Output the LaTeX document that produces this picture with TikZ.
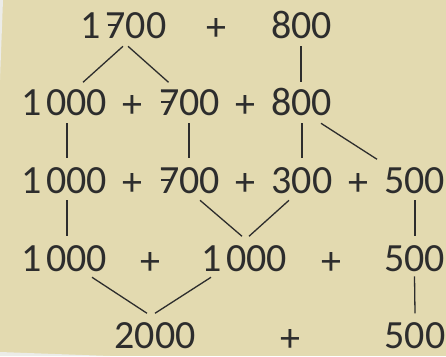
\documentclass[tikz,border=0pt]{standalone}
\usepackage{fontspec}
\usepackage{pdfrender}
\setmainfont{Carlito}[Numbers={Lining,Monospaced}]
\definecolor{bgbeige}{RGB}{227,218,176}
\definecolor{inkgray}{RGB}{45,45,45}
\definecolor{edgegray}{RGB}{236,236,232}
\newcommand\sv{\makebox[0pt][l]{\hspace{0.05em}\raisebox{0.31em}{\rule{0.26em}{0.045em}}}7}
\newcommand\one{1\kern0.12em}
\newcommand\thinink{\pdfrender{TextRenderingMode=2,LineWidth=0.9pt,StrokeColor=bgbeige}}
\begin{document}
\begin{tikzpicture}[x=1pt,y=-1pt,
  num/.style={inner sep=0pt,outer sep=0pt,anchor=base,text=inkgray,font=\fontsize{40}{44}\selectfont\thinink},
  plus/.style={inner sep=0pt,outer sep=0pt,anchor=center,text=inkgray,font=\fontsize{40}{44}\selectfont\thinink},
  conn/.style={draw=inkgray,line width=1.3pt}]
\useasboundingbox (0,0) rectangle (446,356);
\fill[bgbeige] (0,0) rectangle (446,356);
\fill[edgegray] (0,0) -- (3,0) -- (0,80) -- cycle;
\fill[edgegray] (0,352) -- (0,356) -- (110,356) -- cycle;
% row 1
\node[num] (n1a) at (123.5,38) {\one\sv00};
\node[plus] (p1) at (216.5,30) {+};
\node[num] (n1b) at (301.5,38) {800};
% row 2
\node[num] (n2a) at (64,115) {\one000};
\node[plus] (p2a) at (132,107) {+};
\node[num] (n2b) at (189.5,115) {\sv00};
\node[plus] (p2b) at (245,107) {+};
\node[num] (n2c) at (301.5,115) {800};
% row 3
\node[num] (n3a) at (64,193) {\one000};
\node[plus] (p3a) at (132,185) {+};
\node[num] (n3b) at (189.5,193) {\sv00};
\node[plus] (p3b) at (245,185) {+};
\node[num] (n3c) at (302,193) {300};
\node[plus] (p3c) at (358,185) {+};
\node[num] (n3d) at (414.5,193) {500};
% row 4
\node[num] (n4a) at (64,271) {\one000};
\node[plus] (p4a) at (150,263) {+};
\node[num] (n4b) at (244,271) {\one000};
\node[plus] (p4b) at (331,263) {+};
\node[num] (n4c) at (414.5,271) {500};
% row 5
\node[num] (n5a) at (155,348) {2000};
\node[plus] (p5a) at (290,340) {+};
\node[num] (n5b) at (415,348) {500};
% connectors
\draw[conn] ([shift={(-0.5,8)}]n1a.south) -- ([shift={(19,-33)}]n2a.south);
\draw[conn] ([shift={(4.5,8)}]n1a.south) -- ([shift={(-21,-33)}]n2b.south);
\draw[conn] ([shift={(-0.5,8)}]n1b.south) -- ([shift={(-0.5,-33)}]n2c.south);
\draw[conn] ([shift={(3,8)}]n2a.south) -- ([shift={(3,-35)}]n3a.south);
\draw[conn] ([shift={(-0.5,8)}]n2b.south) -- ([shift={(-0.5,-35)}]n3b.south);
\draw[conn] ([shift={(0.5,8)}]n2c.south) -- ([shift={(0,-35)}]n3c.south);
\draw[conn] ([shift={(19.5,8)}]n2c.south) -- ([shift={(-37.5,-34)}]n3d.south);
\draw[conn] ([shift={(3,7)}]n3a.south) -- ([shift={(3,-35)}]n4a.south);
\draw[conn] ([shift={(10.5,7)}]n3b.south) -- ([shift={(-2,-35)}]n4b.south);
\draw[conn] ([shift={(-13,7)}]n3c.south) -- ([shift={(5,-35)}]n4b.south);
\draw[conn] ([shift={(0.5,7)}]n3d.south) -- ([shift={(0.5,-35)}]n4c.south);
\draw[conn] ([shift={(28,6)}]n4a.south) -- ([shift={(-8,-35)}]n5a.south);
\draw[conn] ([shift={(-33,6)}]n4b.south) -- ([shift={(0,-35)}]n5a.south);
\draw[conn] ([shift={(0,5)}]n4c.south) -- ([shift={(0,-35)}]n5b.south);
\end{tikzpicture}
\end{document}
